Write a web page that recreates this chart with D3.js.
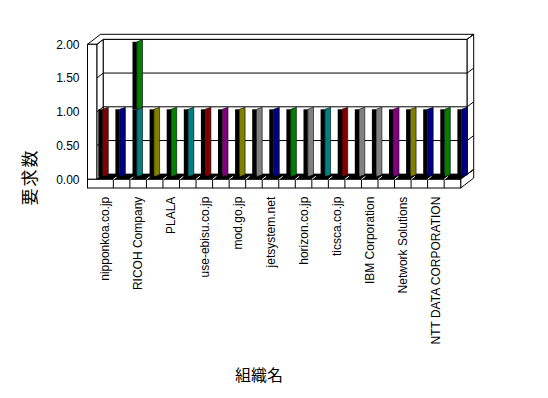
<!DOCTYPE html>
<html>
<head>
<meta charset="utf-8">
<script src="https://cdn.jsdelivr.net/npm/d3@7"></script>
<style>
  body { margin: 0; background: #fff; }
  text { font-family: Arial, "Liberation Sans", sans-serif; }
</style>
</head>
<body>
<div id="chart"></div>
<script>
// organisations (Excel only printed every second label)
const orgLabels = [
  "nipponkoa.co.jp", "", "RICOH Company", "", "PLALA", "",
  "use-ebisu.co.jp", "", "mod.go.jp", "", "jetsystem.net", "",
  "horizon.co.jp", "", "ticsca.co.jp", "", "IBM Corporation", "",
  "Network Solutions", "", "NTT DATA CORPORATION", ""
];
const series1 = [1, 1, 1, 1, 1, 1, 1, 1, 1, 1, 1, 1, 1, 1, 1, 1, 1, 1, 1, 1, 1, 1];
const series2 = [0, 0, 1, 0, 0, 0, 0, 0, 0, 0, 0, 0, 0, 0, 0, 0, 0, 0, 0, 0, 0, 0];
const pointColors = [
  "#800000", "#000080", "#008080", "#808000", "#008000", "#008080",
  "#800000", "#800080", "#808000", "#808080", "#000080", "#008000",
  "#808080", "#008080", "#800000", "#808080", "#808080", "#800080",
  "#808000", "#000080", "#008000", "#000080"
];
const series2Color = "#008000";
const yTicks = [0, 0.5, 1, 1.5, 2];

const width = 548, height = 398;
const svg = d3.select("#chart").append("svg")
  .attr("width", width).attr("height", height);

// 3d box geometry
const dx = 6.5, dy = -5;
const P = (x, y, k) => [x + k * dx, y + k * dy];
const L0 = 87.5, L1 = 96.8, R1 = 460.7, floorBottom = 188;

const idx = d3.range(orgLabels.length);
const y = d3.scaleLinear().domain([0, 2]).range([179.3, 44.3]);
const xFloor = d3.scaleBand().domain(idx).range([L1, R1]);
const xBar = d3.scaleBand().domain(idx).range([98.3, 98.3 + 22 * 17.1]);

const wallTop = y(2), base = y(0);
const poly = (pts) => "M" + pts.map(p => p.join(",")).join("L") + "Z";
const frame = svg.append("g").attr("fill", "#fff").attr("stroke", "#000").attr("stroke-width", 1);

// left wall inner face
frame.append("path").attr("d", poly([P(L1, wallTop, 0), P(L1, wallTop, 1), P(L1, base, 1), P(L1, base, 0)]));
frame.selectAll(".lgrid").data(yTicks).join("line")
  .attr("x1", L1).attr("y1", d => y(d))
  .attr("x2", d => P(L1, y(d), 1)[0]).attr("y2", d => P(L1, y(d), 1)[1]);

// back wall front face + gridlines
frame.append("path").attr("d", poly([P(L1, wallTop, 1), P(R1, wallTop, 1), P(R1, base, 1), P(L1, base, 1)]));
frame.selectAll(".bgrid").data(yTicks).join("line")
  .attr("x1", P(L1, 0, 1)[0]).attr("x2", P(R1, 0, 1)[0])
  .attr("y1", d => y(d) + dy).attr("y2", d => y(d) + dy);

// top of the walls
frame.append("path").attr("d", poly([
  P(L0, wallTop, 0), P(L0, wallTop, 2), P(R1, wallTop, 2), P(R1, wallTop, 1), P(L1, wallTop, 1), P(L1, wallTop, 0)
]));

// floor right side + back wall right side
frame.append("path").attr("d", poly([P(R1, base, 0), P(R1, floorBottom, 0), P(R1, floorBottom, 2), P(R1, base, 2)]));
frame.append("path").attr("d", poly([P(R1, wallTop, 1), P(R1, wallTop, 2), P(R1, base, 2), P(R1, base, 1)]));
frame.selectAll(".rgrid").data(yTicks).join("line")
  .attr("x1", d => P(R1, y(d), 1)[0]).attr("y1", d => P(R1, y(d), 1)[1])
  .attr("x2", d => P(R1, y(d), 2)[0]).attr("y2", d => P(R1, y(d), 2)[1]);

// floor top (black) with the cell lines
svg.append("path").attr("fill", "#000")
  .attr("d", poly([P(L1, base, 0), P(R1, base, 0), P(R1, base, 1), P(L1, base, 1)]));
svg.append("g").attr("stroke", "#fff").selectAll("line")
  .data(idx.slice(1)).join("line")
  .attr("x1", d => xFloor(d)).attr("y1", base)
  .attr("x2", d => P(xFloor(d), base, 0.6)[0]).attr("y2", d => P(xFloor(d), base, 0.6)[1]);

// bars
const stacked = idx.map(i => ({ i, s1: series1[i], s2: series2[i] }));
const stack = d3.stack().keys(["s1", "s2"])(stacked);
const yb = v => y(v) + dy * 0.5;
const wFront = 4.3, wSide = 5.7, slant = -2;

stack.forEach((layer, li) => {
  const g = svg.append("g");
  layer.filter(d => d[1] > d[0]).forEach(d => {
    const i = d.data.i;
    const xb = xBar(i);
    const col = li === 0 ? pointColors[i] : series2Color;
    g.append("rect")
      .attr("x", xb).attr("y", yb(d[1]))
      .attr("width", wFront).attr("height", yb(d[0]) - yb(d[1]))
      .attr("fill", "#000");
    g.append("path").attr("fill", col).attr("stroke", "#000").attr("stroke-width", 0.6)
      .attr("d", poly([
        [xb + wFront, yb(d[1])], [xb + wFront + wSide, yb(d[1]) + slant],
        [xb + wFront + wSide, yb(d[0]) + slant], [xb + wFront, yb(d[0])]
      ]));
  });
});

// left wall front face and floor front face
frame.append("rect").attr("x", L0).attr("y", wallTop).attr("width", L1 - L0).attr("height", base - wallTop);
frame.append("rect").attr("x", L0).attr("y", base).attr("width", R1 - L0).attr("height", floorBottom - base);
frame.selectAll(".cell").data(idx.slice(1)).join("line")
  .attr("x1", d => xFloor(d)).attr("x2", d => xFloor(d))
  .attr("y1", base).attr("y2", floorBottom);

// y axis labels
const yAxis = svg.append("g").attr("transform", "translate(82,0)")
  .call(d3.axisLeft(y).tickValues(yTicks).tickSize(0).tickPadding(2.5).tickFormat(d3.format(".2f")));
yAxis.select(".domain").remove();
yAxis.selectAll("text").attr("font-size", 12).attr("font-family", "Arial, 'Liberation Sans', sans-serif").attr("fill", "#000");

// x axis labels (vertical)
const xAxis = svg.append("g").attr("transform", `translate(0,${floorBottom})`)
  .call(d3.axisBottom(xFloor).tickValues(idx.filter(i => orgLabels[i] !== ""))
    .tickSize(0).tickFormat(i => orgLabels[i]));
xAxis.select(".domain").remove();
xAxis.selectAll("text")
  .attr("transform", "rotate(-90)")
  .attr("x", -8.7).attr("y", 0).attr("dy", "0.35em")
  .attr("text-anchor", "end")
  .attr("font-size", 12).attr("font-family", "Arial, 'Liberation Sans', sans-serif").attr("fill", "#000");

// axis titles
svg.append("text")
  .attr("x", 259).attr("y", 374)
  .attr("text-anchor", "middle").attr("dominant-baseline", "central")
  .attr("font-size", 16).style("font-family", "'Noto Sans CJK JP', sans-serif")
  .text("組織名");

svg.append("text")
  .attr("transform", "translate(28,177) rotate(-90)")
  .attr("text-anchor", "middle").attr("dominant-baseline", "central")
  .attr("font-size", 17).attr("letter-spacing", 2).style("font-family", "'Noto Sans CJK JP', sans-serif")
  .text("要求数");
</script>
</body>
</html>
